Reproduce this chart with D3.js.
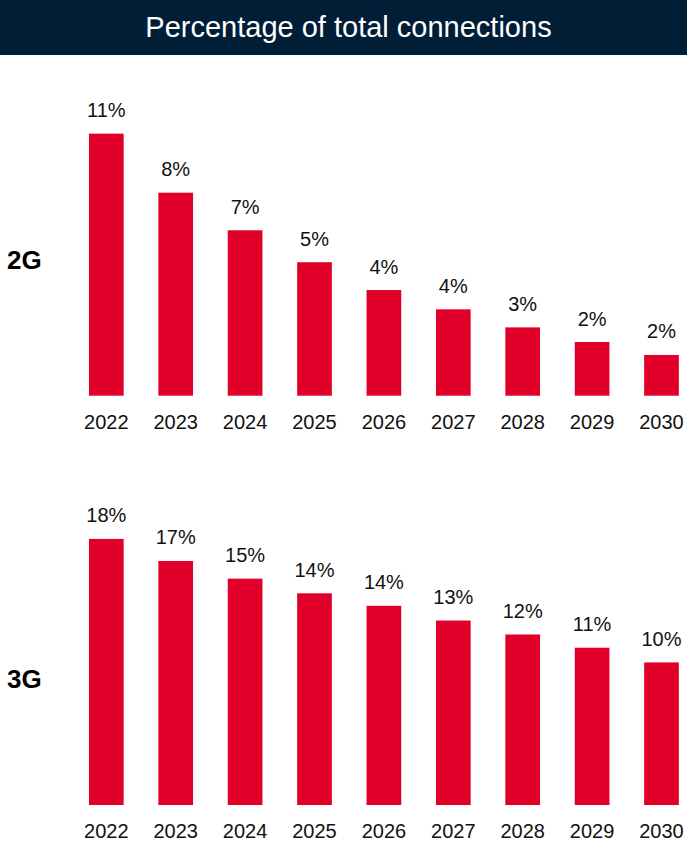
<!DOCTYPE html>
<html>
<head>
<meta charset="utf-8">
<script src="https://cdn.jsdelivr.net/npm/d3@7"></script>
<style>
	body { margin: 0; background: #fff; }
	svg { display: block; font-family: "Liberation Sans", Arial, sans-serif; }
</style>
</head>
<body>
<svg id="chart" width="687" height="842"></svg>
<script>
// share of total connections, in percent
const years = ["2022", "2023", "2024", "2025", "2026", "2027", "2028", "2029", "2030"];
const share2G = [10.74, 8.32, 6.78, 5.47, 4.33, 3.54, 2.80, 2.20, 1.67];
const share3G = [18.1, 16.6, 15.4, 14.4, 13.55, 12.55, 11.6, 10.7, 9.7];
const title = "Percentage of total connections";

const svg = d3.select("#chart");
const width = 687;

// header band
svg.append("rect")
	.attr("width", width)
	.attr("height", 55)
	.attr("fill", "#001e36");

svg.append("text")
	.attr("x", width / 2 + 5)
	.attr("y", 37)
	.attr("text-anchor", "middle")
	.attr("fill", "#fff")
	.style("font-size", "29px")
	.text(title);

const x = d3.scaleBand()
	.domain(years)
	.range([71.6, 696.2])
	.paddingInner(0.5)
	.paddingOuter(0.25);

function drawPanel(name, values, baseline, pxPerUnit, labelY) {
	const y = d3.scaleLinear()
		.domain([0, 10])
		.range([baseline, baseline - 10 * pxPerUnit]);

	const g = svg.append("g");

	g.selectAll(".bar")
		.data(values)
		.enter()
		.append("rect")
		.classed("bar", true)
		.attr("x", (d, i) => x(years[i]))
		.attr("y", d => y(d))
		.attr("width", x.bandwidth())
		.attr("height", d => y(0) - y(d))
		.attr("fill", "#e0002a");

	g.selectAll(".val")
		.data(values)
		.enter()
		.append("text")
		.classed("val", true)
		.attr("x", (d, i) => x(years[i]) + x.bandwidth() / 2)
		.attr("y", d => y(d) - 16.5)
		.attr("text-anchor", "middle")
		.attr("fill", "#111")
		.style("font-size", "20px")
		.text(d => Math.round(d) + "%");

	// year axis, no line or ticks
	const axis = g.append("g")
		.attr("transform", "translate(0," + baseline + ")")
		.call(d3.axisBottom(x).tickSize(0).tickPadding(19));
	axis.select(".domain").remove();
	axis.selectAll("text")
		.attr("fill", "#111")
		.style("font-size", "20px")
		.style("font-family", "'Liberation Sans', Arial, sans-serif");

	svg.append("text")
		.attr("x", 7)
		.attr("y", labelY)
		.attr("fill", "#000")
		.style("font-size", "26px")
		.style("font-weight", "bold")
		.text(name);
}

drawPanel("2G", share2G, 395.7, 24.4, 269);
drawPanel("3G", share3G, 805, 14.7, 687.5);
</script>
</body>
</html>
